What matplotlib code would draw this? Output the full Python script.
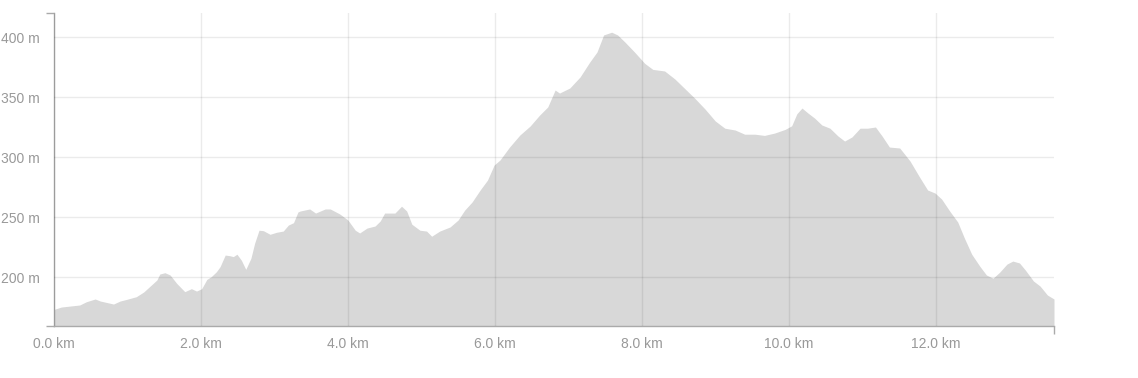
import matplotlib
matplotlib.use('Agg')
import numpy as np
from matplotlib import pyplot as plt

dist_km = [0.0, 0.1, 0.35, 0.44, 0.56, 0.63, 0.81, 0.9, 0.99, 1.12, 1.22, 1.31, 1.40, 1.44,
           1.51, 1.58, 1.67, 1.78, 1.87, 1.94, 2.01, 2.08, 2.14, 2.21, 2.26, 2.33, 2.39, 2.44,
           2.49, 2.55, 2.61, 2.68, 2.73, 2.79, 2.85, 2.94, 3.03, 3.12, 3.19, 3.26, 3.32, 3.35,
           3.48, 3.56, 3.69, 3.76, 3.89, 4.0, 4.10, 4.16, 4.26, 4.37, 4.44, 4.50, 4.64, 4.73,
           4.80, 4.87, 4.98, 5.07, 5.14, 5.25, 5.39, 5.50, 5.59, 5.69, 5.80, 5.90, 5.99, 6.07,
           6.20, 6.34, 6.48, 6.61, 6.72, 6.82, 6.88, 7.02, 7.16, 7.29, 7.39, 7.48, 7.59, 7.67,
           7.77, 7.90, 8.04, 8.15, 8.31, 8.45, 8.59, 8.72, 8.86, 9.0, 9.13, 9.27, 9.40, 9.54,
           9.67, 9.81, 9.95, 10.04, 10.11, 10.18, 10.26, 10.35, 10.45, 10.56, 10.67, 10.76,
           10.86, 10.97, 11.07, 11.18, 11.27, 11.37, 11.51, 11.65, 11.78, 11.89, 11.99, 12.08,
           12.19, 12.30, 12.39, 12.49, 12.60, 12.69, 12.78, 12.87, 12.97, 13.05, 13.14, 13.22,
           13.33, 13.42, 13.52, 13.61]
alt_m = [173, 175, 176.7, 179.4, 181.7, 180, 177.5, 180, 181.4, 183.6, 187.5, 192.5, 197.5, 202.5,
         203.6, 201.7, 194.7, 187.8, 190.3, 188.3, 190.3, 198, 200.3, 204.4, 208.6, 218.3, 217.8, 217,
         219, 214, 206.4, 215.6, 228, 239, 238.6, 235.6, 237.3, 238.3, 243.3, 245.3, 254.2, 255,
         256.7, 253.3, 256.7, 256.7, 252.5, 247.5, 239, 236.7, 240.8, 242.5, 246.7, 253.3, 253.3, 259,
         255, 244, 239, 238.3, 234, 238.3, 241.7, 247.5, 255.8, 262.5, 272.5, 280.8, 293.3, 297.5,
         308.3, 318.3, 325.8, 335, 341.7, 355.8, 353.3, 357.5, 366.7, 379, 387.5, 401.7, 404, 401.7,
         395.8, 387.5, 378, 373, 371.7, 365, 356.7, 349, 340, 330, 324, 322.5, 319, 319,
         318, 320, 323, 326, 336, 340.8, 336.7, 332.5, 326.7, 324, 317.5, 313.3,
         316.7, 324, 324, 325, 317.5, 308.3, 307.5, 296.7, 283.3, 272.5, 270, 265,
         255, 245.8, 232.5, 219, 209, 201.7, 199, 204, 210.8, 213.3, 211.7, 205.8,
         196.7, 192.5, 185, 181.7]

x_ticks = [0, 2, 4, 6, 8, 10, 12]
x_labels = ['0.0 km', '2.0 km', '4.0 km', '6.0 km', '8.0 km', '10.0 km', '12.0 km']
y_ticks = [200, 250, 300, 350, 400]
y_labels = ['200 m', '250 m', '300 m', '350 m', '400 m']

plt.rcParams['font.family'] = ['Liberation Sans', 'DejaVu Sans']

fig = plt.figure(figsize=(11.38, 3.78), dpi=100)
ax = fig.add_axes([54 / 1138, 52 / 378, 1000 / 1138, 313 / 378])

x_max = dist_km[-1]
y_min, y_max = 159.2, 420
ax.fill_between(dist_km, alt_m, y_min, color='#d8d8d8', linewidth=0, zorder=1)

ax.set_xlim(0, x_max)
ax.set_ylim(y_min, y_max)
ax.set_xticks(x_ticks)
ax.set_xticklabels(x_labels)
ax.set_yticks(y_ticks)
ax.set_yticklabels(y_labels)
ax.set_xticks([0, x_max], minor=True)
ax.set_yticks([y_min, y_max], minor=True)

ax.tick_params(which='major', length=0, labelsize=10, labelcolor='#999999')
ax.tick_params(axis='x', which='major', pad=8)
ax.tick_params(axis='y', which='major', pad=10)
ax.tick_params(which='minor', length=6, color='#aaaaaa', width=1)

ax.grid(True, which='major', color='black', alpha=0.08, linewidth=1)
ax.set_axisbelow(False)

for s in ['top', 'right']:
    ax.spines[s].set_visible(False)
for s in ['left', 'bottom']:
    ax.spines[s].set_color('#aaaaaa')
    ax.spines[s].set_linewidth(1)

fig.savefig('out.png', dpi=100)
